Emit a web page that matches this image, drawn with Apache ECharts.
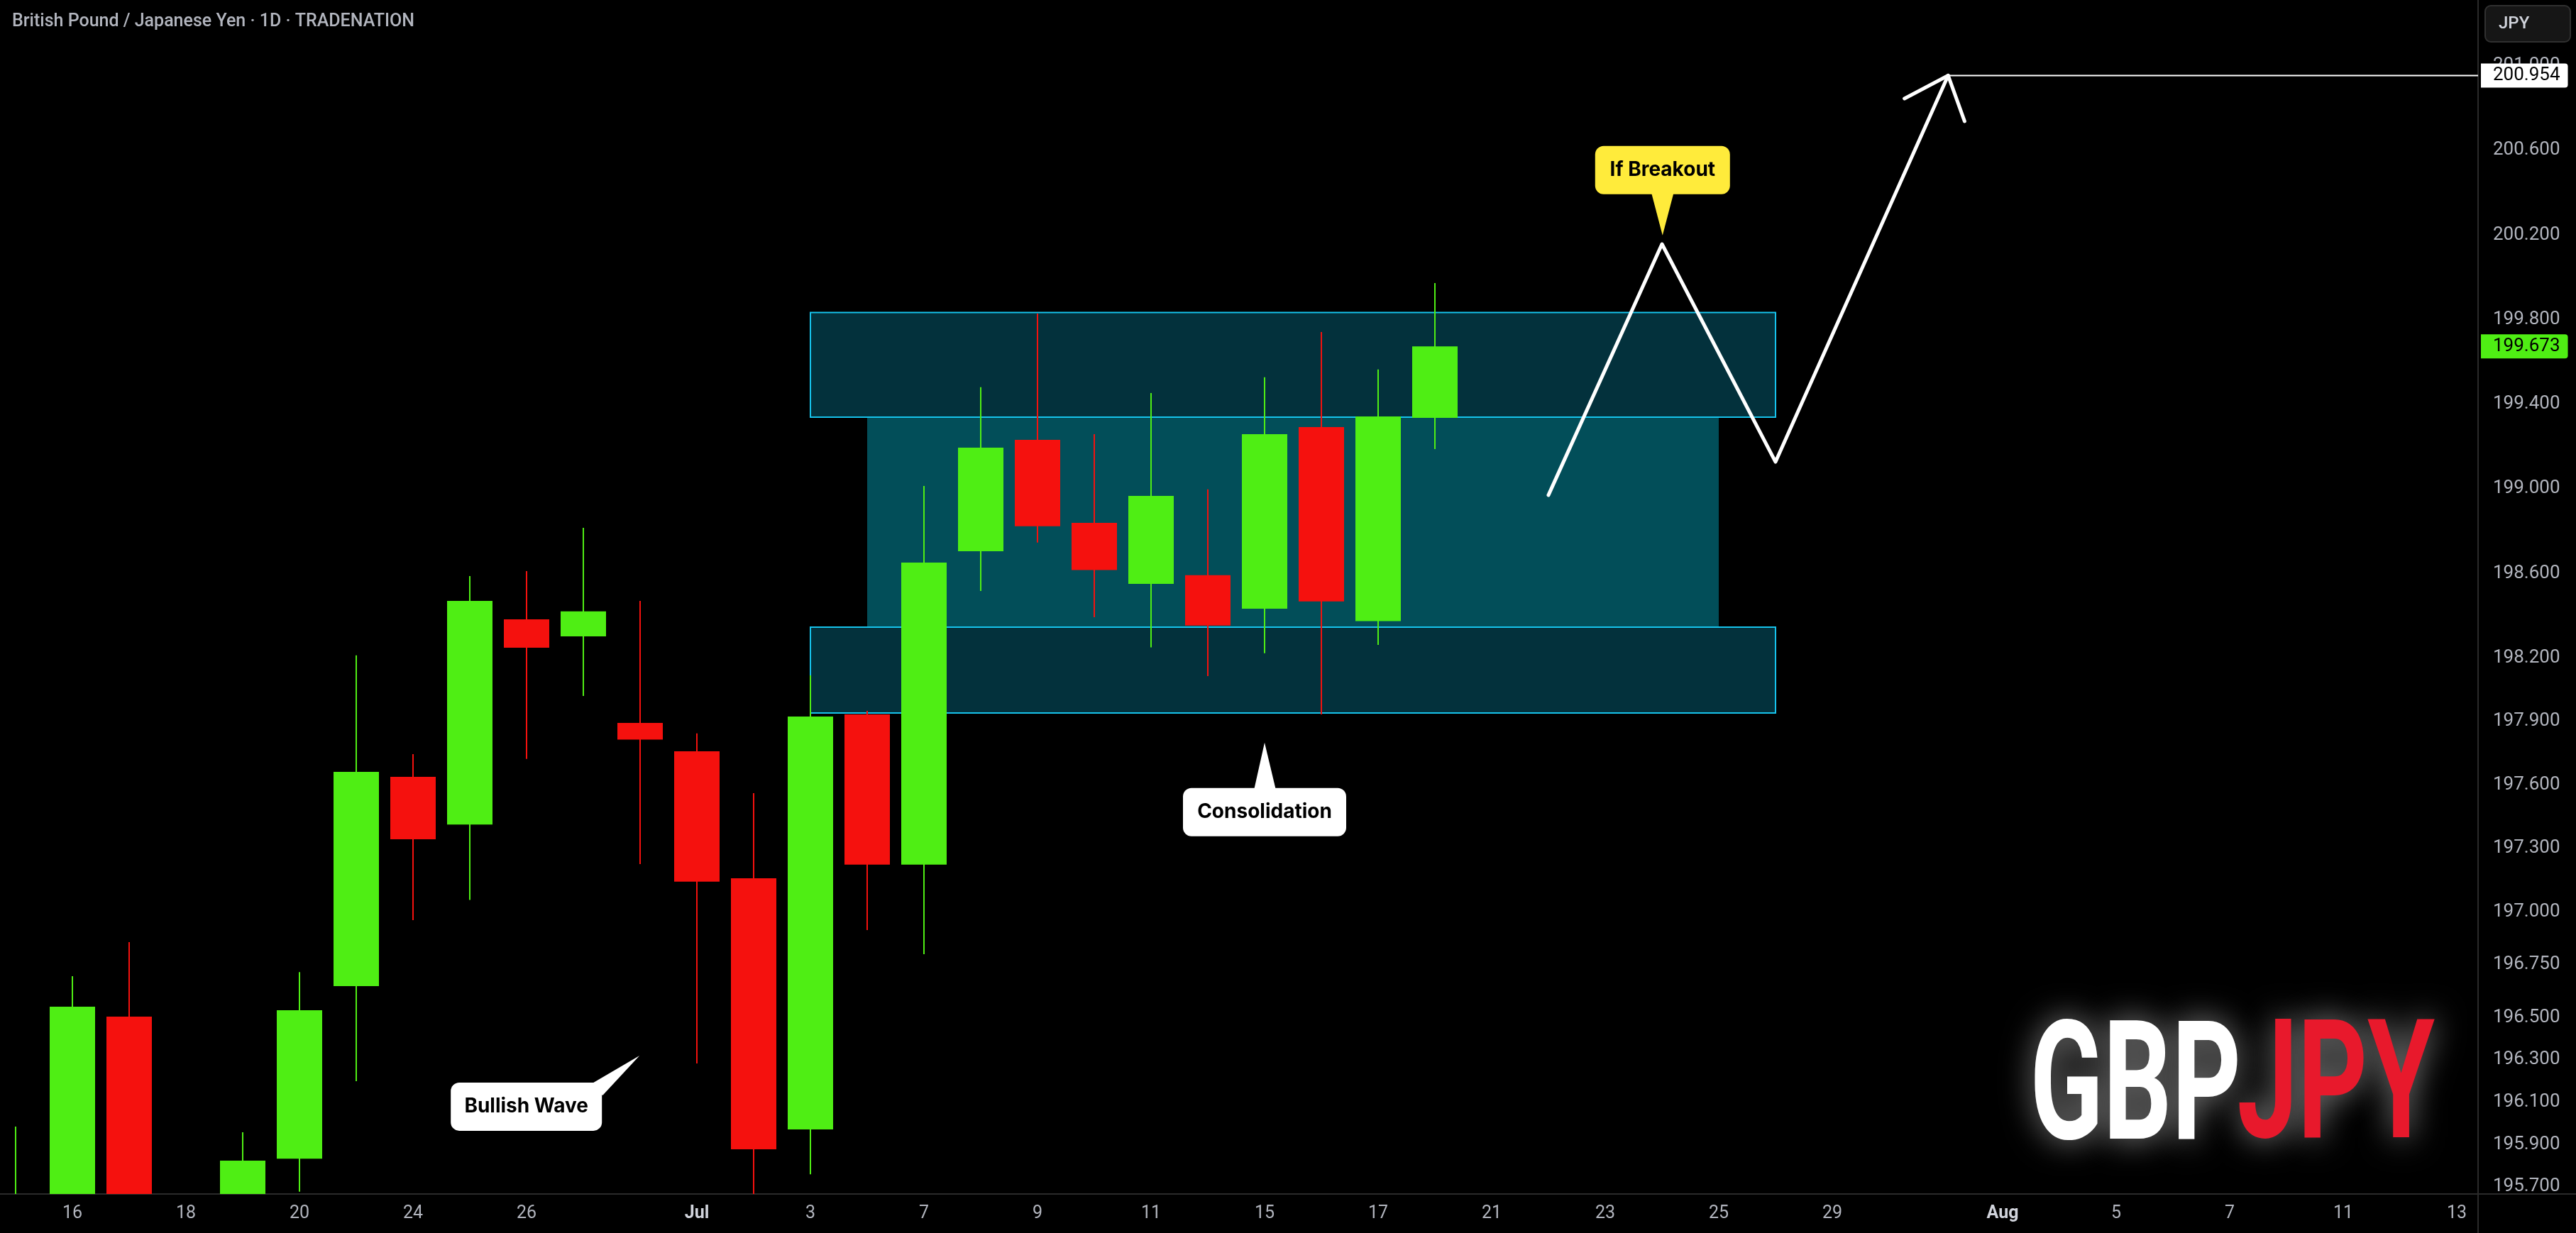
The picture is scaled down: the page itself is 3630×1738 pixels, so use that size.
<!DOCTYPE html>
<html>
<head>
<meta charset="utf-8">
<title>GBPJPY 1D</title>
<script src="https://cdn.jsdelivr.net/npm/echarts@6.0.0/dist/echarts.min.js"></script>
<style>
  html, body { margin: 0; padding: 0; background: #000; }
  #chart { width: 3630px; height: 1738px; }
</style>
</head>
<body>
<div id="chart"></div>
<script>
// trading days shown on the time scale (2025), one slot per bar
const DAYS = [
  "06-13", "06-16", "06-17", "06-18", "06-19", "06-20", "06-23", "06-24", "06-25", "06-26",
  "06-27", "06-30", "07-01", "07-02", "07-03", "07-04", "07-07", "07-08", "07-09", "07-10",
  "07-11", "07-14", "07-15", "07-16", "07-17", "07-18", "07-21", "07-22", "07-23", "07-24",
  "07-25", "07-28", "07-29", "07-30", "07-31", "08-01", "08-04", "08-05", "08-06", "08-07",
  "08-08", "08-11", "08-12", "08-13",
];

// [day, open, close, low, high]
const CANDLES = [
  ["06-13", 195.4, 195.6, 195.3, 195.984],
  ["06-16", 195.45, 196.551, 195.38, 196.695],
  ["06-17", 196.504, 195.55, 195.45, 196.856],
  ["06-18", 195.55, 195.32, 195.15, 195.62],
  ["06-19", 195.35, 195.823, 195.25, 195.957],
  ["06-20", 195.832, 196.534, 195.676, 196.715],
  ["06-23", 196.648, 197.661, 196.199, 198.212],
  ["06-24", 197.638, 197.343, 196.96, 197.745],
  ["06-25", 197.412, 198.47, 197.056, 198.587],
  ["06-26", 198.383, 198.248, 197.723, 198.611],
  ["06-27", 198.302, 198.42, 198.02, 198.815],
  ["06-30", 197.893, 197.814, 197.225, 198.47],
  ["07-01", 197.759, 197.142, 196.283, 197.843],
  ["07-02", 197.158, 195.877, 195.6, 197.561],
  ["07-03", 195.971, 197.923, 195.759, 198.118],
  ["07-04", 197.933, 197.223, 196.913, 197.95],
  ["07-07", 197.223, 198.651, 196.799, 199.013],
  ["07-08", 198.705, 199.194, 198.517, 199.48],
  ["07-09", 199.231, 198.823, 198.746, 199.828],
  ["07-10", 198.839, 198.616, 198.393, 199.258],
  ["07-11", 198.55, 198.966, 198.25, 199.453],
  ["07-14", 198.591, 198.353, 198.114, 198.997],
  ["07-15", 198.433, 199.258, 198.222, 199.527],
  ["07-16", 199.292, 198.467, 197.933, 199.741],
  ["07-17", 198.374, 199.342, 198.262, 199.564],
  ["07-18", 199.335, 199.673, 199.188, 199.973],
];

const X_TICKS = ["06-16", "06-18", "06-20", "06-24", "06-26", "07-01", "07-03", "07-07", "07-09", "07-11",
  "07-15", "07-17", "07-21", "07-23", "07-25", "07-29", "08-01", "08-05", "08-07", "08-11", "08-13"];
const X_TICK_TEXT = ["16", "18", "20", "24", "26", "Jul", "3", "7", "9", "11",
  "15", "17", "21", "23", "25", "29", "Aug", "5", "7", "11", "13"];
const Y_TICKS = [201.0, 200.6, 200.2, 199.8, 199.4, 199.0, 198.6, 198.2, 197.9, 197.6, 197.3,
  197.0, 196.75, 196.5, 196.3, 196.1, 195.9, 195.7];

const TARGET = 200.954;

// boxes drawn on the chart: [from day, to day, top price, bottom price]
const ZONES = [
  ["07-03", "07-28", 199.833, 199.339],
  ["07-03", "07-28", 198.346, 197.94],
];
const RANGE_BOX = ["07-04", "07-25", 199.339, 198.346];

// projected path, x in bar slots
const PATH = [[27, 198.97], [29, 200.157], [31, 199.127], [34.04, TARGET]];
const ARROW_HEAD = [[33.27, 200.845], [34.04, TARGET], [34.33, 200.738]];

// [text, bar slot, price] of each callout's pointer tip
const CALLOUTS = [
  ["Bullish Wave", 10.99, 196.32],
  ["Consolidation", 22.0, 197.8],
  ["If Breakout", 29.01, 200.198],
];

const UP = "#4fee14";
const DOWN = "#f5110e";
const AXIS_TEXT = "#b2b5be";
const FONT = "Roboto";
const NOTE_FONT = "bold 28px Inter";
const X_MIN = -0.275;
const X_MAX = 43.375;
const BODY_W = 64;
const LAST = CANDLES[CANDLES.length - 1][2];

const slot = (d) => DAYS.indexOf(d);

const CALLOUT_LAYOUT = {
  "Bullish Wave": { box: [-266, 38, 213, 68], tail: [[-70, 41], [0, 0], [-52, 56]], fill: "#ffffff" },
  "Consolidation": { box: [-115, 64, 230, 68], tail: [[-15, 67], [0, 0], [16, 67]], fill: "#ffffff" },
  "If Breakout": { box: [-95, -126, 190, 68], tail: [[-16, -61], [0, 0], [16, -61]], fill: "#ffeb3b" },
};

const xLabelOf = {};
X_TICKS.forEach((d, i) => { xLabelOf[slot(d)] = X_TICK_TEXT[i]; });

// watermark: squeeze the word so its ink fills the given box
const measureCtx = document.createElement("canvas").getContext("2d");
function measure(text, font, baseline) {
  measureCtx.font = font;
  measureCtx.textBaseline = baseline;
  return measureCtx.measureText(text);
}
const LOGO_TOP = 1436;
const LOGO_BOTTOM = 1609;
const probe = measure("GBP", "bold 100px Roboto", "alphabetic");
const LOGO_SIZE = Math.round(100 * (LOGO_BOTTOM - LOGO_TOP) / (probe.actualBoundingBoxAscent + probe.actualBoundingBoxDescent));
const LOGO_FONT = `bold ${LOGO_SIZE}px Roboto`;
function logoWord(text, color, inkLeft, inkRight) {
  const m = measure(text, LOGO_FONT, "middle");
  const s = (inkRight - inkLeft) / (m.actualBoundingBoxLeft + m.actualBoundingBoxRight);
  return {
    type: "text",
    x: inkLeft + s * m.actualBoundingBoxLeft,
    y: LOGO_TOP + m.actualBoundingBoxAscent,
    scaleX: s,
    style: {
      text, fill: color, font: LOGO_FONT, verticalAlign: "middle",
      textShadowColor: "rgba(255,255,255,0.55)", textShadowBlur: 45,
    },
  };
}

const zoneRect = (fill, stroke) => (params, api) => {
  const a = api.coord([api.value(0), api.value(2)]);
  const b = api.coord([api.value(1), api.value(3)]);
  return {
    type: "rect",
    shape: { x: a[0], y: a[1], width: b[0] - a[0], height: b[1] - a[1] },
    style: stroke ? { fill, stroke, lineWidth: 2 } : { fill },
  };
};

const chart = echarts.init(document.getElementById("chart"));

chart.setOption({
  backgroundColor: "#000",
  animation: false,
  title: {
    text: "British Pound / Japanese Yen · 1D · TRADENATION",
    left: 17,
    top: 18,
    padding: 0,
    textStyle: { color: AXIS_TEXT, fontSize: 25, fontWeight: 500, fontFamily: FONT },
  },
  grid: { left: 0, top: 0, width: 3492, height: 1683, outerBoundsMode: "none" },
  xAxis: {
    type: "value",
    min: X_MIN,
    max: X_MAX,
    axisLine: { show: false },
    axisTick: { show: false },
    splitLine: { show: false },
    axisLabel: {
      customValues: X_TICKS.map(slot),
      margin: 15,
      formatter: (v) => {
        const t = xLabelOf[Math.round(v)];
        return /^[A-Z]/.test(t) ? `{m|${t}}` : `{d|${t}}`;
      },
      rich: {
        d: { color: AXIS_TEXT, fontSize: 25, fontFamily: FONT },
        m: { color: "#d1d4dc", fontSize: 25, fontWeight: "bold", fontFamily: FONT },
      },
    },
  },
  yAxis: {
    type: "value",
    position: "right",
    min: 195.6655,
    max: 201.311,
    axisLine: { show: false },
    axisTick: { show: false },
    splitLine: { show: false },
    axisLabel: {
      customValues: [...Y_TICKS, LAST, TARGET],
      margin: 4,
      align: "left",
      formatter: (v) => {
        const s = v.toFixed(3);
        if (Math.abs(v - TARGET) < 1e-6) return `{target|${s}}`;
        if (Math.abs(v - LAST) < 1e-6) return `{last|${s}}`;
        return `{n|${s}}`;
      },
      rich: {
        n: { color: AXIS_TEXT, fontSize: 26, lineHeight: 26, fontFamily: FONT, padding: [4, 11, 4, 17] },
        target: {
          color: "#000", backgroundColor: "#ffffff", borderRadius: [0, 4, 4, 0],
          fontSize: 26, lineHeight: 26, fontFamily: FONT, padding: [4, 11, 4, 17],
        },
        last: {
          color: "#000", backgroundColor: UP, borderRadius: [0, 4, 4, 0],
          fontSize: 26, lineHeight: 26, fontFamily: FONT, padding: [4, 11, 4, 17],
        },
      },
    },
  },
  graphic: [
    { type: "line", shape: { x1: 0, y1: 1683, x2: 3630, y2: 1683 }, style: { stroke: "#2a2a2a", lineWidth: 2 } },
    { type: "line", shape: { x1: 3492, y1: 0, x2: 3492, y2: 1738 }, style: { stroke: "#2a2a2a", lineWidth: 2 } },
    {
      type: "rect",
      shape: { x: 3502, y: 8, width: 120, height: 51, r: 8 },
      style: { fill: "#161616", stroke: "#303030", lineWidth: 2 },
    },
    {
      type: "text",
      x: 3521,
      y: 34,
      style: { text: "JPY", fill: "#d1d4dc", font: `500 24px ${FONT}`, verticalAlign: "middle" },
    },
    logoWord("GBP", "#ffffff", 2867, 3153),
    logoWord("JPY", "#e8192c", 3155, 3431),
  ],
  series: [
    {
      // consolidation core
      type: "custom",
      z: 1,
      silent: true,
      encode: { x: [0, 1], y: [2, 3] },
      data: [[slot(RANGE_BOX[0]), slot(RANGE_BOX[1]), RANGE_BOX[2], RANGE_BOX[3]]],
      renderItem: zoneRect("#024e59"),
    },
    {
      // upper / lower edges of the range
      type: "custom",
      z: 2,
      silent: true,
      encode: { x: [0, 1], y: [2, 3] },
      data: ZONES.map((z) => [slot(z[0]), slot(z[1]), z[2], z[3]]),
      renderItem: zoneRect("#03313c", "#16c3ec"),
    },
    {
      // daily candles; custom so partly hidden bars get clipped at the axis
      type: "custom",
      z: 3,
      silent: true,
      clip: true,
      encode: { x: 0, y: [1, 2, 3, 4] },
      data: CANDLES.map((c) => [slot(c[0]), c[1], c[2], c[3], c[4]]),
      renderItem: (params, api) => {
        const x = api.value(0);
        const o = api.value(1);
        const c = api.value(2);
        const color = c >= o ? UP : DOWN;
        const hi = api.coord([x, api.value(4)]);
        const lo = api.coord([x, api.value(3)]);
        const po = api.coord([x, o]);
        const pc = api.coord([x, c]);
        const top = Math.min(po[1], pc[1]);
        const bot = Math.max(po[1], pc[1]);
        return {
          type: "group",
          children: [
            { type: "line", shape: { x1: hi[0], y1: hi[1], x2: lo[0], y2: lo[1] }, style: { stroke: color, lineWidth: 2 } },
            { type: "rect", shape: { x: po[0] - BODY_W / 2, y: top, width: BODY_W, height: Math.max(bot - top, 1) }, style: { fill: color } },
          ],
        };
      },
    },
    {
      type: "line",
      z: 4,
      silent: true,
      symbol: "none",
      data: PATH,
      lineStyle: { color: "#ffffff", width: 5, cap: "round", join: "round" },
    },
    {
      type: "line",
      z: 4,
      silent: true,
      symbol: "none",
      data: ARROW_HEAD,
      lineStyle: { color: "#ffffff", width: 5, cap: "round", join: "round" },
    },
    {
      type: "line",
      z: 4,
      silent: true,
      symbol: "none",
      data: [[PATH[PATH.length - 1][0], TARGET], [X_MAX, TARGET]],
      lineStyle: { color: "#ffffff", width: 2 },
    },
    {
      type: "custom",
      z: 5,
      silent: true,
      data: CALLOUTS.map((c) => [c[1], c[2]]),
      renderItem: (params, api) => {
        const label = CALLOUTS[params.dataIndex][0];
        const L = CALLOUT_LAYOUT[label];
        const p = api.coord([api.value(0), api.value(1)]);
        const [bx, by, bw, bh] = L.box;
        return {
          type: "group",
          x: p[0],
          y: p[1],
          children: [
            { type: "polygon", shape: { points: L.tail }, style: { fill: L.fill } },
            { type: "rect", shape: { x: bx, y: by, width: bw, height: bh, r: 12 }, style: { fill: L.fill } },
            {
              type: "text",
              style: {
                text: label, x: bx + bw / 2, y: by + bh / 2, align: "center", verticalAlign: "middle",
                fill: "#000", font: NOTE_FONT,
              },
            },
          ],
        };
      },
    },
  ],
});
</script>
</body>
</html>
